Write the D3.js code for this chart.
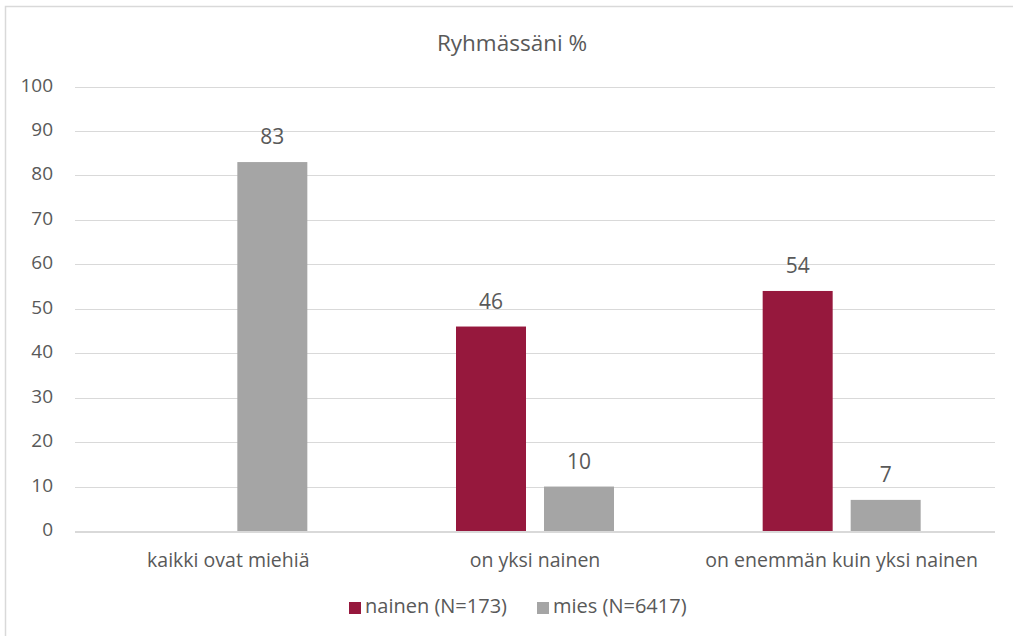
<!DOCTYPE html>
<html>
<head>
<meta charset="utf-8">
<script src="https://cdn.jsdelivr.net/npm/d3@7"></script>
<style>
  body { margin: 0; background: #fff; }
</style>
</head>
<body>
<div id="chart"></div>
<script>
const categories = ['kaikki ovat miehiä', 'on yksi nainen', 'on enemmän kuin yksi nainen'];
const seriesNames = ['nainen (N=173)', 'mies (N=6417)'];
const nainenValues = [null, 46, 54];
const miesValues = [83, 10, 7];
const yTicks = [0, 10, 20, 30, 40, 50, 60, 70, 80, 90, 100];

const colors = ['#96183D', '#A5A5A5'];
const font = 'Open Sans';
const textColor = '#595959';

let width = 1013;
let height = 636;

// Make svg element
let svg = d3.select('#chart').append('svg')
  .attr('width', width)
  .attr('height', height);

// Outer frame
svg.append('rect')
  .attr('x', 5.5)
  .attr('y', 6.5)
  .attr('width', width + 20)
  .attr('height', height + 20)
  .attr('fill', 'none')
  .attr('stroke', '#D9D9D9')
  .attr('stroke-width', 1.5);

let plotLeft = 75;
let plotRight = 995;
let plotTop = 86.5;
let plotBottom = 531;

let x = d3.scaleBand().domain(categories).range([plotLeft, plotRight]);
let y = d3.scaleLinear().domain([0, 100]).range([plotBottom, plotTop]);
let barWidth = 70;
let barGap = 18;

// Title
svg.append('text')
  .text('Ryhmässäni %')
  .attr('x', 512)
  .attr('y', 51)
  .attr('text-anchor', 'middle')
  .attr('font-size', 22.5)
  .attr('font-family', font)
  .attr('fill', textColor);

// Gridlines
svg.append('g')
  .selectAll('line')
  .data(yTicks.filter(d => d > 0))
  .join('line')
  .attr('x1', plotLeft)
  .attr('x2', plotRight)
  .attr('y1', d => Math.round(y(d)) + 0.5)
  .attr('y2', d => Math.round(y(d)) + 0.5)
  .attr('stroke', '#D9D9D9')
  .attr('stroke-width', 1);

// Y labels
svg.append('g')
  .selectAll('text')
  .data(yTicks)
  .join('text')
  .text(d => d)
  .attr('x', 53)
  .attr('y', d => y(d) + 5)
  .attr('text-anchor', 'end')
  .attr('font-size', 19)
  .attr('font-family', font)
  .attr('fill', textColor);

// Bars
let series = [nainenValues, miesValues];
for (let s = 0; s < series.length; s++) {
  let values = series[s];
  let g = svg.append('g');
  categories.forEach((cat, i) => {
    let v = values[i];
    if (v === null) return;
    let cx = x(cat) + x.bandwidth() / 2;
    let bx = s === 0 ? cx - barGap / 2 - barWidth : cx + barGap / 2;
    g.append('rect')
      .attr('x', bx)
      .attr('y', y(v))
      .attr('width', barWidth)
      .attr('height', y(0) - y(v))
      .attr('fill', colors[s]);
    g.append('text')
      .text(v)
      .attr('x', bx + barWidth / 2)
      .attr('y', y(v) - 18)
      .attr('text-anchor', 'middle')
      .attr('font-size', 21)
      .attr('font-family', font)
      .attr('fill', textColor);
  });
}

// X axis line
svg.append('line')
  .attr('x1', plotLeft)
  .attr('x2', plotRight)
  .attr('y1', plotBottom + 1)
  .attr('y2', plotBottom + 1)
  .attr('stroke', '#D9D9D9')
  .attr('stroke-width', 2);

// Category labels
svg.append('g')
  .selectAll('text')
  .data(categories)
  .join('text')
  .text(d => d)
  .attr('x', d => x(d) + x.bandwidth() / 2)
  .attr('y', 567)
  .attr('text-anchor', 'middle')
  .attr('font-size', 19.5)
  .attr('font-family', font)
  .attr('fill', textColor);

// Legend
let legendX = [349, 537];
seriesNames.forEach((name, i) => {
  svg.append('rect')
    .attr('x', legendX[i])
    .attr('y', 602)
    .attr('width', 12)
    .attr('height', 12)
    .attr('fill', colors[i]);
  svg.append('text')
    .text(name)
    .attr('x', legendX[i] + 16)
    .attr('y', 613)
    .attr('font-size', 20)
    .attr('font-family', font)
    .attr('fill', textColor);
});
</script>
</body>
</html>
